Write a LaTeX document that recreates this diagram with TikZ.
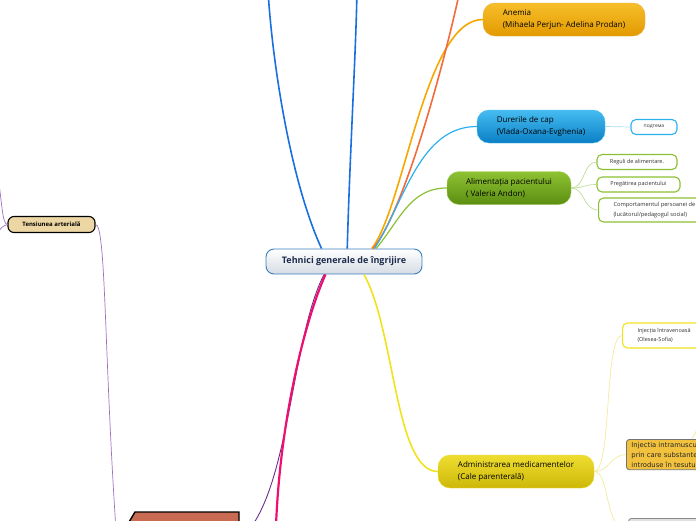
\documentclass[tikz,border=0pt]{standalone}
\usepackage{fontspec}
\setmainfont{Open Sans}
\newfontfamily\boxfont{DejaVu Sans}
\usepackage{tikz}
\usetikzlibrary{calc}
\usepackage{xcolor}
\definecolor{cBlue}{HTML}{1A6FE0}
\definecolor{cRed}{HTML}{F26B3A}
\definecolor{cOrange}{HTML}{F5A800}
\definecolor{cSky}{HTML}{2CB0EE}
\definecolor{cGreen}{HTML}{8CC034}
\definecolor{cYellow}{HTML}{F2E21E}
\definecolor{cMagenta}{HTML}{EE1070}
\definecolor{cPurple}{HTML}{6A2C8C}
\definecolor{cLilac}{HTML}{A070C0}
\definecolor{cNavy}{HTML}{1C2C4C}
\definecolor{cRootLine}{HTML}{3A7CC0}
\definecolor{cRootLow}{HTML}{D5DCE4}
\definecolor{cAnemiaTop}{HTML}{F6BE2A}
\definecolor{cAnemiaLow}{HTML}{E39A02}
\definecolor{cPainTop}{HTML}{46BCF2}
\definecolor{cPainLow}{HTML}{0A7FC4}
\definecolor{cFoodTop}{HTML}{8EC232}
\definecolor{cFoodLow}{HTML}{5C8E12}
\definecolor{cDrugTop}{HTML}{EEDD30}
\definecolor{cDrugLow}{HTML}{CDB808}
\definecolor{cTan}{HTML}{ECD6A4}
\definecolor{cBrown}{HTML}{C96A52}
\definecolor{cBox}{HTML}{F2C23E}
\definecolor{cSkyLight}{HTML}{A8DCF4}
\definecolor{cGreenLight}{HTML}{C0DC98}
\definecolor{cYellowLight}{HTML}{F2EA9A}

\begin{document}
\begin{tikzpicture}[x=1pt,y=-1pt,
  topic/.style={rounded corners=12pt,align=left,inner sep=0pt,minimum height=33,
    font=\fontsize{8}{11.5}\selectfont,text=black},
  subtopic/.style={draw,fill=white,line width=1.1pt,rounded corners=5pt,align=left,
    inner sep=0pt,font=\fontsize{5.5}{9.5}\selectfont,text=black!80},
  link/.style={line width=1.6pt},
  twig/.style={line width=0.7pt}]
\useasboundingbox (0,0) rectangle (696,520);
\clip (0,0) rectangle (696,520);

% main topics
\node[draw=cRootLine,line width=0.9pt,top color=white,bottom color=cRootLow,rounded corners=8pt,
  minimum width=156,minimum height=25,font=\bfseries\fontsize{9}{10}\selectfont,text=cNavy]
  (root) at (344,261.5) {Tehnici generale de îngrijire};
\node[topic,draw=cAnemiaLow!80,top color=cAnemiaTop,bottom color=cAnemiaLow,minimum width=162]
  (anemia) at (564,19.5) {Anemia\\(Mihaela Perjun- Adelina Prodan)};
\node[topic,draw=cPainTop,top color=cPainTop,bottom color=cPainLow,minimum width=128]
  (pain) at (541,126.5) {Durerile de cap\\(Vlada-Oxana-Evghenia)};
\node[topic,draw=cFoodTop!80,top color=cFoodTop,bottom color=cFoodLow,minimum width=124]
  (food) at (509,188) {Alimentația pacientului\\( Valeria Andon)};
\node[topic,draw=cDrugTop,top color=cDrugTop,bottom color=cDrugLow,minimum width=156]
  (drugs) at (516,471.5) {Administrarea medicamentelor\\(Cale parenterală)};
\node[draw,line width=1.1pt,fill=cTan,rounded corners=6pt,minimum width=87,minimum height=16,
  inner sep=0pt,font=\bfseries\fontsize{6}{7}\selectfont]
  (pressure) at (51.5,224.5) {Tensiunea arterială};

% subtopics
\node[subtopic,draw=cSky,minimum width=46,minimum height=15,font=\fontsize{5}{6}\selectfont]
  (subtopic) at (654,127) {подтема};
\node[subtopic,draw=cGreen,minimum width=80,minimum height=15] (rules) at (637,162) {Reguli de alimentare.};
\node[subtopic,draw=cGreen,minimum width=83,minimum height=15] (prep) at (638.5,184.5) {Pregătirea pacientului};
\node[subtopic,draw=cGreen,minimum height=24,anchor=west,inner xsep=15pt,font=\fontsize{5.7}{9.5}\selectfont]
  (staff) at (598,210) {Comportamentul persoanei de\\(lucătorul/pedagogul social)};
\node[subtopic,draw=cYellow,minimum height=25,anchor=west,inner xsep=15pt] (veins) at (622,335.5)
  {Injecția întravenoasă\\(Olesea-Sofia)};
\node[draw=black!55,line width=0.9pt,fill=cBox,rounded corners=3pt,anchor=north west,align=left,
  inner xsep=5pt,inner ysep=2.5pt,font=\boxfont\fontsize{6.8}{10}\selectfont,text=black!85]
  (muscle) at (626,439) {Injectia intramuscu\\prin care substante\\introduse în tesutu};
\node[draw=black!45,line width=0.9pt,fill=black!12,rounded corners=3pt,anchor=north west,
  minimum width=90,minimum height=25] (greybox) at (628,518) {};
\draw[line width=1.4pt,fill=cBrown] (129,522) -- (135,512) -- (239,512) -- (239,524);

% ends outside the picture
\coordinate (upA) at (268,-10);
\coordinate (upB) at (357,-10);
\coordinate (upC) at (460,-10);
\coordinate (downA) at (276,526);
\coordinate (brown) at (239,540);
\coordinate (downB) at (116,530);
\coordinate (leftA) at (-3,170);
\coordinate (leftB) at (-3,233);
\coordinate (muscleup) at (706,412);

% branches of the root
\draw[link,cBlue] (root.150) .. controls (290,180) and (272,60) .. (upA);
\draw[link,cBlue] (root.76) .. controls (350,150) and (356,50) .. (upB);
\draw[link,cOrange] (root.25) .. controls (405,205) and (425,19.5) .. (anemia.west);
\draw[link,cRed] (root.24) .. controls (405,210) and (445,60) .. (upC);
\draw[link,cSky,line width=1.2pt] (root.23) .. controls (405,200) and (420,126.5) .. (pain.west);
\draw[link,cGreen,line width=1.2pt] (root.22) .. controls (400,220) and (410,188) .. (food.west);
\draw[link,cYellow] (root.327) .. controls (395,330) and (395,471.5) .. (drugs.west);
\draw[link,cPurple,line width=0.9pt] (root.213) .. controls (290,340) and (290,500) .. (brown);
\draw[link,cMagenta,line width=2.2pt] (root.215) .. controls (305,320) and (280,420) .. (downA);
\draw[twig,cLilac] (pressure.east) .. controls (106,224.5) and (104,350) .. (downB);
\draw[twig,cLilac] (pressure.west) .. controls (2,224.5) and (2,200) .. (leftA);
\draw[twig,cLilac] (pressure.west) .. controls (3,226) .. (leftB);

% twigs of the topics
\draw[twig,cSkyLight] (pain.east) -- (subtopic.west);
\foreach \leaf in {rules,prep,staff}
  \draw[twig,cGreenLight] (food.east) .. controls (585,188) and (583,0 |- \leaf.west) .. (\leaf.west);
\draw[twig,cYellowLight] (drugs.east) .. controls (612,471.5) and (604,335.5) .. (veins.west);
\draw[twig,cYellowLight] (drugs.east) .. controls (610,471.5) and (610,455) .. (muscle.west);
\draw[twig,cYellowLight] (drugs.east) .. controls (610,471.5) and (604,530) .. (greybox.west);
\draw[twig,cYellowLight] ($(muscle.north west)+(66,0)$) -- (muscleup);
\end{tikzpicture}
\end{document}
